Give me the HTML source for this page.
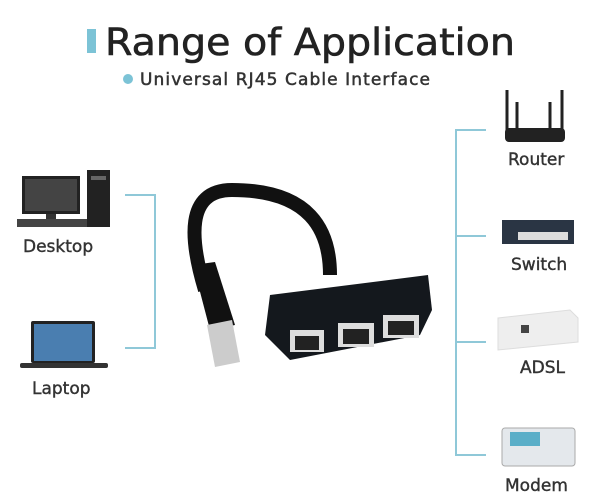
<!DOCTYPE html>
<html><head><style>
html,body{margin:0;padding:0;background:#fff;width:600px;height:499px;overflow:hidden}
svg{display:block}
text{font-family:"DejaVu Sans","Liberation Sans",sans-serif;fill:#333}
</style></head><body>
<svg width="600" height="499" viewBox="0 0 600 499">
<rect x="87" y="29" width="9" height="24" fill="#7cc3d6"/>
<text x="105" y="55" font-size="37" textLength="410" lengthAdjust="spacingAndGlyphs" style="fill:#222;stroke:#222;stroke-width:0.6">Range of Application</text>
<circle cx="128" cy="79" r="5" fill="#7cc3d6"/>
<text x="140" y="85" font-size="17" textLength="290" style="fill:#333;stroke:#333;stroke-width:0.5">Universal RJ45 Cable Interface</text>
<g stroke="#8fc8d8" stroke-width="2" fill="none">
<path d="M125 195H155V348H125"/>
<path d="M486 130H456V455H486M456 236H486M456 342H486"/>
</g>
<g style="stroke:#333;stroke-width:0.4">
<text x="23" y="252" font-size="17">Desktop</text>
<text x="32" y="394" font-size="17">Laptop</text>
<text x="508" y="165" font-size="17">Router</text>
<text x="511" y="270" font-size="17">Switch</text>
<text x="520" y="373" font-size="17">ADSL</text>
<text x="505" y="491" font-size="17">Modem</text>
</g>
<rect x="22" y="176" width="58" height="38" fill="#222"/><rect x="25" y="179" width="52" height="32" fill="#444"/>
<rect x="46" y="214" width="10" height="6" fill="#333"/>
<rect x="17" y="219" width="72" height="8" fill="#444"/>
<rect x="87" y="170" width="23" height="57" fill="#222"/><rect x="91" y="176" width="15" height="4" fill="#666"/>
<rect x="31" y="321" width="64" height="42" rx="2" fill="#222"/><rect x="34" y="324" width="58" height="37" fill="#4a7eb0"/>
<rect x="20" y="363" width="88" height="5" rx="2" fill="#333"/>
<path d="M232 190C185 190 190 240 205 290" stroke="#111" stroke-width="14" fill="none"/>
<path d="M232 190C310 190 330 230 330 275" stroke="#111" stroke-width="14" fill="none"/>
<path d="M193 265L215 262L235 325L210 330Z" fill="#111"/>
<path d="M207 325L232 320L240 362L215 367Z" fill="#ccc"/>
<path d="M270 295L428 275L432 310L420 335L290 360L265 335Z" fill="#14181d"/>
<rect x="290" y="330" width="34" height="22" fill="#ddd"/><rect x="295" y="336" width="24" height="14" fill="#222"/>
<rect x="338" y="323" width="36" height="24" fill="#ddd"/><rect x="343" y="329" width="26" height="15" fill="#222"/>
<rect x="383" y="315" width="36" height="23" fill="#ddd"/><rect x="388" y="321" width="26" height="14" fill="#222"/>
<path d="M507 90V130M517 102V130M550 102V130M562 90V130" stroke="#222" stroke-width="3"/>
<rect x="505" y="128" width="60" height="14" rx="4" fill="#222"/>
<rect x="502" y="220" width="72" height="24" fill="#2a3544"/><rect x="518" y="232" width="50" height="8" fill="#ddd"/>
<path d="M498 318L570 310L578 318L578 342L498 350Z" fill="#eee" stroke="#ddd"/>
<rect x="521" y="325" width="8" height="8" fill="#444"/>
<rect x="502" y="428" width="73" height="38" rx="3" fill="#e4e8ec" stroke="#aaa"/>
<rect x="510" y="432" width="30" height="14" fill="#5aaec8"/>
</svg>
</body></html>
